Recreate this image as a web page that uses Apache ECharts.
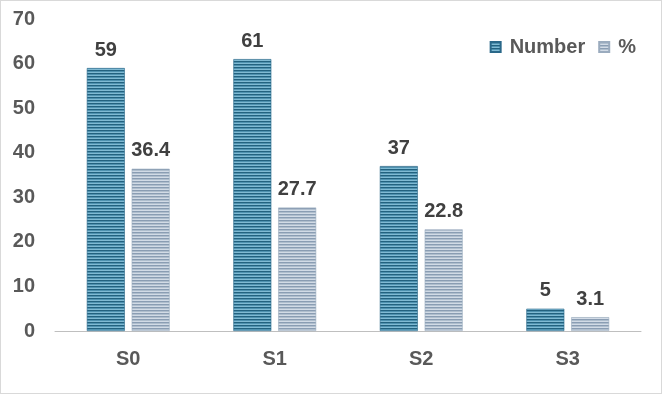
<!DOCTYPE html>
<html><head><meta charset="utf-8">
<script src="https://cdn.jsdelivr.net/npm/echarts@6/dist/echarts.min.js"></script>
<style>html,body{margin:0;padding:0;background:#fff}#c{width:662px;height:394px;box-sizing:border-box;border:1px solid #d9d9d9}</style>
</head><body><div id="c"></div>
<script>
const categories = ['S0','S1','S2','S3'];
const numberValues = [59, 61, 37, 5];
const percentValues = [36.4, 27.7, 22.8, 3.1];
const yTicks = [0,10,20,30,40,50,60,70];

function stripes(colors){
  const c = document.createElement('canvas');
  c.width = 4; c.height = colors.length;
  const g = c.getContext('2d');
  colors.forEach((col,i)=>{ g.fillStyle = col; g.fillRect(0,i,4,1); });
  return {image: c, repeat: 'repeat'};
}
const numPat = stripes(['#23627f','#4f92b0','#80bad3']);
const pctPat = stripes(['#8a9db3','#afbecd','#d2dbe6']);

const FONT = 'Arial, "Liberation Sans", sans-serif';
const chart = echarts.init(document.getElementById('c'));
const labelStyle = {show:true, position:'top', distance:8, fontFamily:FONT, fontWeight:'bold', fontSize:20, color:'#404040'};
chart.setOption({
  animation:false,
  grid:{left:54, right:20, top:18, bottom:62},
  legend:{
    right:20, top:31, itemWidth:10, itemHeight:10, itemGap:13,
    icon:'rect',
    textStyle:{fontFamily:FONT, fontWeight:'bold', fontSize:20, color:'#595959', padding:[0,0,0,4]},
    data:['Number','%']
  },
  xAxis:{
    type:'category', data:categories,
    axisLine:{lineStyle:{color:'#bfbfbf', width:1}},
    axisTick:{show:false},
    axisLabel:{margin:18, fontFamily:FONT, fontWeight:'bold', fontSize:20, color:'#595959'}
  },
  yAxis:{
    type:'value', min:yTicks[0], max:yTicks[yTicks.length-1], interval:10,
    axisLine:{show:false}, axisTick:{show:false},
    splitLine:{show:false},
    axisLabel:{margin:20, fontFamily:FONT, fontWeight:'bold', fontSize:20, color:'#595959'}
  },
  series:[
    {name:'Number', type:'bar', data:numberValues, barWidth:38, barGap:'18%',
     itemStyle:{color:numPat, borderColor:'#2a6889', borderWidth:0.6}, label:labelStyle},
    {name:'%', type:'bar', data:percentValues, barWidth:38,
     itemStyle:{color:pctPat, borderColor:'#9aabbe', borderWidth:0.6}, label:labelStyle}
  ]
});
</script></body></html>
